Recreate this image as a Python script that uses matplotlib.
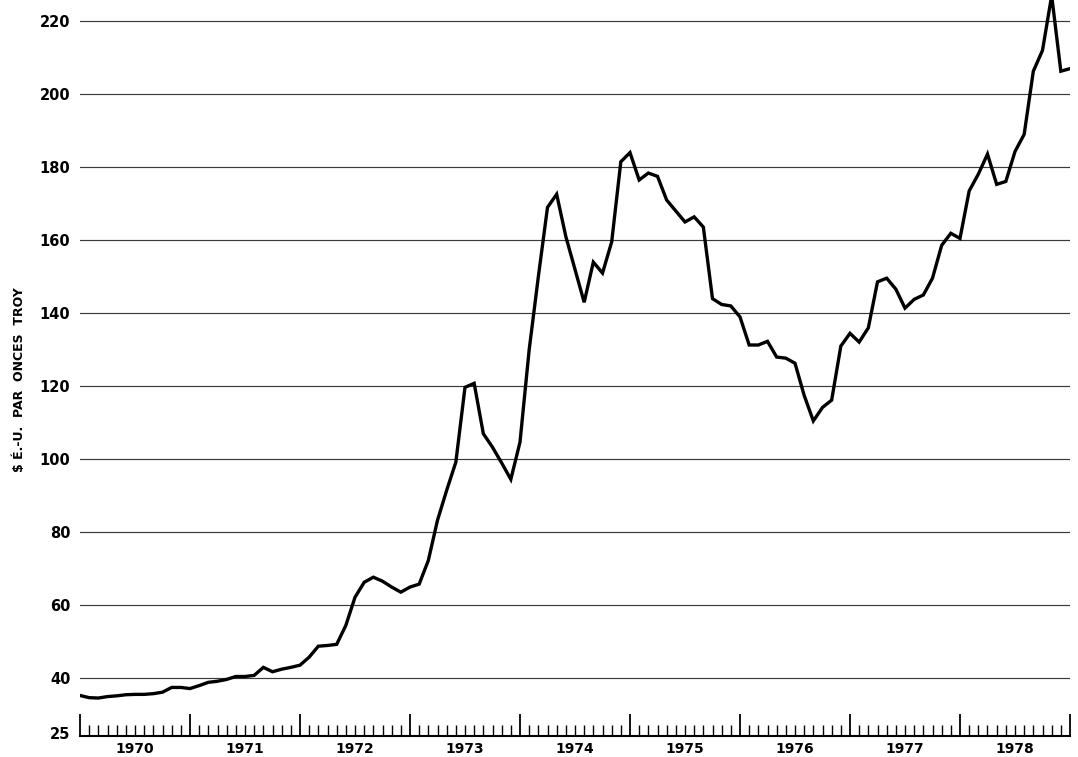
import numpy as np
import matplotlib.pyplot as plt

# prix mensuel de l'or, janv. 1970 -> janv. 1979 (109 points, début de mois)
years = ["1970", "1971", "1972", "1973", "1974", "1975", "1976", "1977", "1978"]
price = [
    35.3, 34.7, 34.6, 35.0, 35.2, 35.5, 35.6, 35.6, 35.8, 36.2, 37.5, 37.5,
    37.2, 38.0, 38.9, 39.2, 39.7, 40.5, 40.5, 40.8, 43.0, 41.8, 42.5, 43.0,
    43.6, 45.8, 48.8, 49.0, 49.3, 54.5, 62.2, 66.3, 67.7, 66.6, 65.0, 63.6,
    65.0, 65.8, 72.3, 83.3, 91.5, 99.2, 119.7, 120.8, 107.0, 103.3, 99.0, 94.5,
    104.7, 130.0, 150.0, 169.0, 172.6, 161.0, 152.0, 143.0, 154.0, 151.0, 159.5, 181.5,
    184.0, 176.5, 178.4, 177.5, 171.0, 168.0, 165.0, 166.4, 163.6, 144.0, 142.4, 142.0,
    139.0, 131.3, 131.3, 132.3, 128.0, 127.7, 126.3, 117.5, 110.5, 114.2, 116.2, 131.0,
    134.5, 132.1, 136.0, 148.6, 149.6, 146.6, 141.4, 143.8, 145.0, 149.6, 158.6, 161.9,
    160.5, 173.5, 178.1, 183.6, 175.3, 176.1, 184.3, 189.0, 206.3, 212.0, 227.0, 206.3,
    207.0,
]
yticks = [25, 40, 60, 80, 100, 120, 140, 160, 180, 200, 220]

months = np.arange(len(price))

fig = plt.figure(figsize=(10.78, 7.57), dpi=100)
ax = fig.add_axes([80 / 1078, 21 / 757, 990 / 1078, 736 / 757])

# lignes de grille horizontales
for v in yticks[1:]:
    ax.axhline(v, color="#3a3a3a", lw=0.85, zorder=1)

ax.plot(months, price, color="black", lw=2.4, solid_joinstyle="miter", zorder=3)

ax.set_xlim(0, 108)
ax.set_ylim(24.2, 225.8)

ax.set_yticks(yticks)
ax.set_yticklabels([str(v) for v in yticks], fontsize=10.5, fontweight="bold")
ax.tick_params(axis="y", length=0, pad=7)

# graduations : années (grandes) et mois (petites)
ax.set_xticks(np.arange(0, 109, 12))
ax.set_xticks(np.arange(0, 109, 1), minor=True)
ax.set_xticklabels([])
ax.tick_params(axis="x", which="major", direction="in", length=16, width=1.3, color="black")
ax.tick_params(axis="x", which="minor", direction="in", length=8, width=1.0, color="black")

for k, yr in enumerate(years):
    ax.annotate(yr, (12 * k + 6, 0), xycoords=ax.get_xaxis_transform(),
                xytext=(0, -4), textcoords="offset points",
                ha="center", va="top", fontsize=10, fontweight="bold")

for s in ["top", "right", "left"]:
    ax.spines[s].set_visible(False)
ax.spines["bottom"].set_linewidth(1.5)

fig.text(20 / 1078, 1 - 380 / 757, "$ É.-U.  PAR  ONCES  TROY", rotation=90,
         ha="center", va="center", fontsize=9, fontweight="bold")

fig.savefig("out.png", dpi=100)
